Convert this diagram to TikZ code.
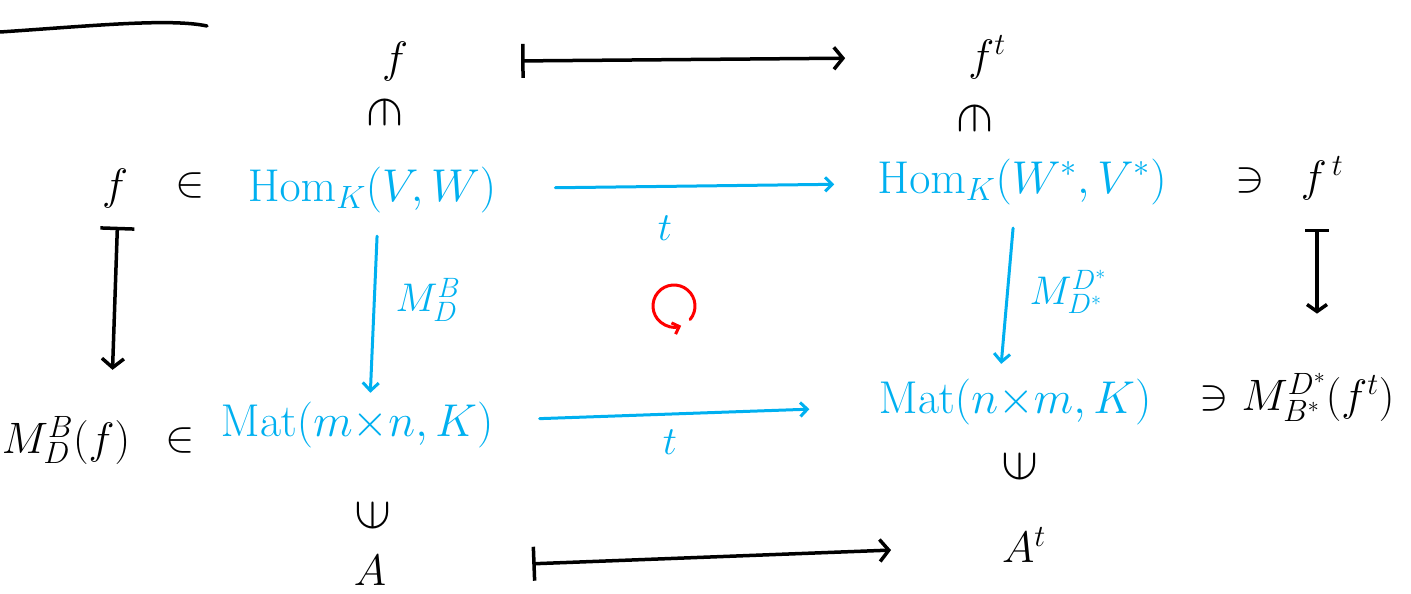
\RequirePackage{fix-cm}
\documentclass[tikz,border=0pt]{standalone}
\usetikzlibrary{arrows.meta,calc}
\definecolor{hand}{RGB}{0,176,240}
\definecolor{hred}{RGB}{255,0,0}
\tikzset{
  blk/.style={font=\fontsize{44}{50}\selectfont, inner sep=1pt},
  sym/.style={font=\fontsize{44}{50}\selectfont, inner sep=1pt},
  rsym/.style={font=\fontsize{54}{60}\selectfont, inner sep=1pt},
  blu/.style={font=\fontsize{46}{52}\selectfont, text=hand, inner sep=1pt},
  lbl/.style={font=\fontsize{40}{46}\selectfont, text=hand, inner sep=1pt},
  maps/.style={line width=3.5pt, line cap=round, {Bar[width=34pt,line width=3.5pt]}-{Straight Barb[length=9pt,width=22pt,line width=3.5pt]}},
  barr/.style={line width=3pt, line cap=round, draw=hand, -{Straight Barb[length=7pt,width=14pt,line width=3pt]}},
  varr/.style={line width=3pt, line cap=round, draw=hand, -{Straight Barb[length=8pt,width=16pt,line width=3pt]}},
}
\begin{document}
\begin{tikzpicture}[x=1pt,y=-1pt]
\useasboundingbox (0,0) rectangle (1411,594);
% top-left stroke
\draw[line width=3.5pt, line cap=round] (0,32) .. controls (90,26) and (170,18) .. (207,26);
% top row
\node[blk] (fT) at (395,62) {$f$};
\node[blk] (ftT) at (987,57) {$f^{t}$};
\node[rsym, rotate=-90] (inT1) at (385,113) {$\in$};
\node[rsym, rotate=-90] (inT2) at (975,118) {$\in$};
\draw[maps] (fT) -- (ftT) [shorten <=112pt, shorten >=122pt];
% middle row
\node[blk] (fL) at (115,188) {$f$};
\node[sym] (inL) at (190,185) {$\in$};
\node[blu] (HomV) at (372,190) {$\mathrm{Hom}_{K}(V,W)$};
\node[blu] (HomW) at (1022,182) {$\mathrm{Hom}_{K}(W^{*},V^{*})$};
\node[sym] (niR) at (1250,180) {$\ni$};
\node[blk] (ftR) at (1322,178) {$f^{\,t}$};
% bottom row
\node[blk] (ML) at (66,440) {$M^{B}_{D}(f)$};
\node[sym] (inBL) at (180,440) {$\in$};
\node[blu] (MatL) at (357,425) {$\mathrm{Mat}(m{\times}n,K)$};
\node[blu] (MatR) at (1015,402) {$\mathrm{Mat}(n{\times}m,K)$};
\node[sym] (niBR) at (1214,398) {$\ni$};
\node[blk] (MR) at (1318,397) {$M^{D^{*}}_{B^{*}}(f^{t})$};
\node[rsym, rotate=90] (psi1) at (373,515) {$\in$};
\node[rsym, rotate=90] (psi2) at (1020,466) {$\in$};
\node[blk] (A) at (370,570) {$A$};
\node[blk] (At) at (1024,545) {$A^{t}$};
% horizontal blue arrows
\draw[barr] (HomV) -- (HomW) [shorten <=58pt, shorten >=42pt];
\node[lbl] (t1) at (665,228) {$t$};
\draw[barr] (MatL) -- (MatR) [shorten <=45pt, shorten >=68pt];
\node[lbl] (t2) at (670,442) {$t$};
% vertical blue arrows
\draw[varr] ([xshift=6pt]HomV.south) -- ([xshift=13pt]MatL.north) [shorten <=22pt, shorten >=8pt];
\node[lbl] (MBD) at (428,300) {$M^{B}_{D}$};
\draw[varr] ([xshift=-7pt]HomW.south) -- ([xshift=-15pt]MatR.north) [shorten <=22pt, shorten >=14pt];
\node[lbl] (MDD) at (1068,292) {$M^{D^{*}}_{D^{*}}$};
% black vertical mapsto
\draw[maps] ([xshift=3pt]fL.south) -- ([xshift=-4pt]fL.south |- ML.north) [shorten <=18pt, shorten >=45pt];
\draw[line width=3.5pt, line cap=round, {Bar[width=24pt,line width=3.5pt]}-{Straight Barb[length=7pt,width=20pt,line width=3.5pt]}] ([xshift=-5pt]ftR.south) -- ([xshift=-5pt]ftR.south |- MR.north) [shorten <=28pt, shorten >=58pt];
% bottom mapsto
\draw[maps] (A) -- (At) [shorten <=145pt, shorten >=110pt];
% red commutation symbol
\coordinate (circ) at (674,306);
\draw[hred, line width=3pt, line cap=round, -{Straight Barb[length=6pt,width=12pt,line width=3pt]}]
  ([shift={(40:21)}]circ) arc[start angle=40, end angle=-290, radius=21];
\end{tikzpicture}
\end{document}
